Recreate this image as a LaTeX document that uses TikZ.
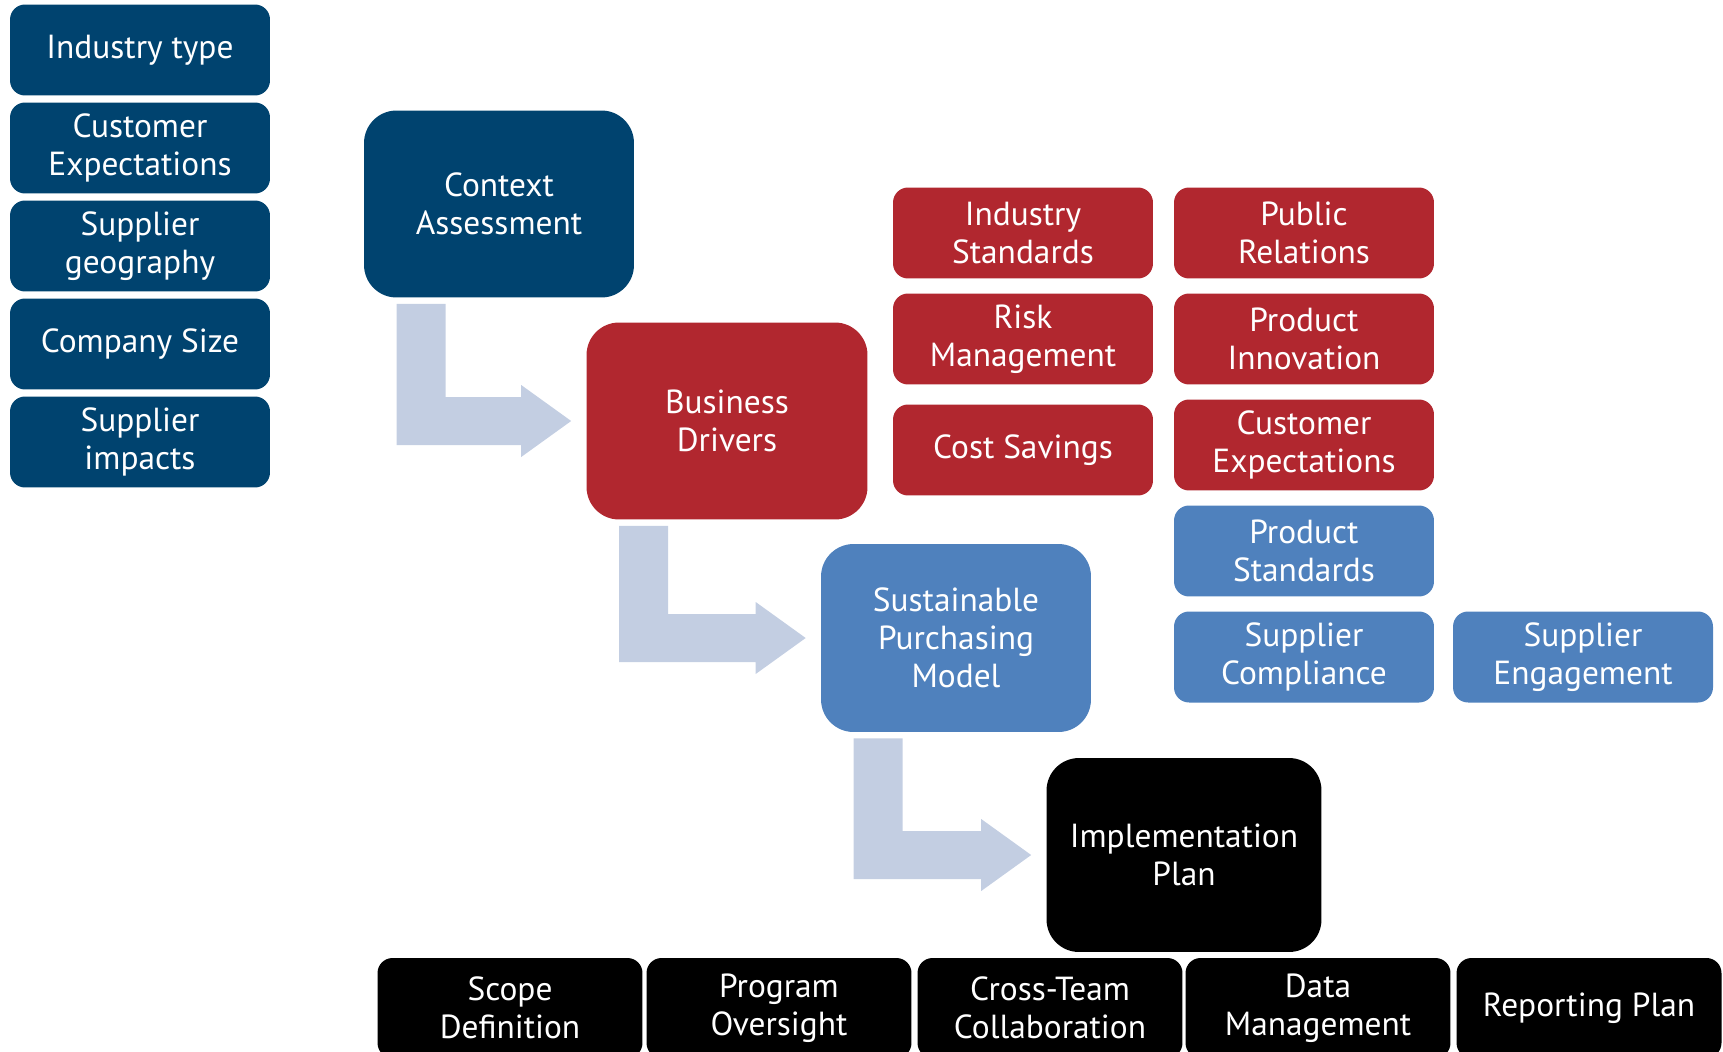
\documentclass[tikz,border=0pt]{standalone}
\usepackage{fontspec}
\setmainfont{PT Sans}
\usetikzlibrary{calc}

\definecolor{ctxblue}{HTML}{00436F}
\definecolor{drvred}{HTML}{B1272F}
\definecolor{mdlblue}{HTML}{4F81BD}
\definecolor{flowgrey}{HTML}{C3CEE2}

% L-shaped block arrow from the corner of one stage to the side of the next
\newcommand{\stagearrow}[2]{%
    \fill [flowarrow] ($(#1.south west)+(33,6)$) coordinate (t)
        -- ++(49,0) |- ($(#2.west)+(-65,-24)$) -- ++(0,-12)
        -- ($(#2.west)+(-15,0)$) -- ($(#2.west)+(-65,36)$) -- ++(0,-12)
        -| (t) -- cycle;}

\tikzset{
    box/.style = {rectangle, rounded corners = 0.3cm, text = white, align = center,
                  inner sep = 0pt, font = \fontsize{19}{21.5}\selectfont},
    small/.style = {box, minimum width = 5.2cm, minimum height = 1.82cm},
    stage/.style = {box, rounded corners = 0.65cm, minimum height = 3.8cm},
    factor/.style = {small, fill = ctxblue},
    driver/.style = {small, fill = drvred},
    element/.style = {small, fill = mdlblue},
    task/.style = {small, fill = black, minimum width = 5.3cm, minimum height = 2cm},
    flowarrow/.style = {fill = flowgrey}
}

\begin{document}
\begin{tikzpicture}[x = 0.02cm, y = -0.02cm]
    \useasboundingbox (0,0) rectangle (1723,1051);

    % Context factors:
    \node [factor] (indtype) at (140,50)  {Industry type};
    \node [factor] (custexp) at (140,148) {Customer\\Expectations};
    \node [factor] (geo)     at (140,246) {Supplier\\geography};
    \node [factor] (size)    at (140,344) {Company Size};
    \node [factor] (impacts) at (140,442) {Supplier\\impacts};

    % The four stages:
    \node [stage, fill = ctxblue, minimum width = 5.4cm, minimum height = 3.74cm]
        (context) at (499,204) {Context\\Assessment};
    \node [stage, fill = drvred, minimum width = 5.62cm, minimum height = 3.94cm]
        (drivers) at (727,421) {Business\\Drivers};
    \node [stage, fill = mdlblue, minimum width = 5.4cm, minimum height = 3.76cm]
        (model) at (956,638) {Sustainable\\Purchasing\\Model};
    \node [stage, fill = black, minimum width = 5.5cm, minimum height = 3.88cm]
        (plan) at (1184,855) {Implementation\\Plan};

    \stagearrow{context}{drivers}
    \stagearrow{drivers}{model}
    \stagearrow{model}{plan}

    % Business drivers:
    \node [driver] (indstd)  at (1023,233)  {Industry\\Standards};
    \node [driver] (risk)    at (1023,339)  {Risk\\Management};
    \node [driver] (cost)    at (1023,450)  {Cost Savings};
    \node [driver] (pr)      at (1304,233)  {Public\\Relations};
    \node [driver] (innov)   at (1304,339)  {Product\\Innovation};
    \node [driver] (custdrv) at (1304,445)  {Customer\\Expectations};

    % Model elements:
    \node [element] (prodstd) at (1304,551) {Product\\Standards};
    \node [element] (comply)  at (1304,657) {Supplier\\Compliance};
    \node [element] (engage)  at (1583,657) {Supplier\\Engagement};

    % Plan tasks:
    \node [task] (scope)     at (510,1008)  {Scope\\Definition};
    \node [task] (oversight) at (779,1008)  {Program\\Oversight};
    \node [task] (crossteam) at (1050,1008) {Cross-Team\\Collaboration};
    \node [task] (data)      at (1318,1008) {Data\\Management};
    \node [task] (report)    at (1589,1008) {Reporting Plan};
\end{tikzpicture}
\end{document}
